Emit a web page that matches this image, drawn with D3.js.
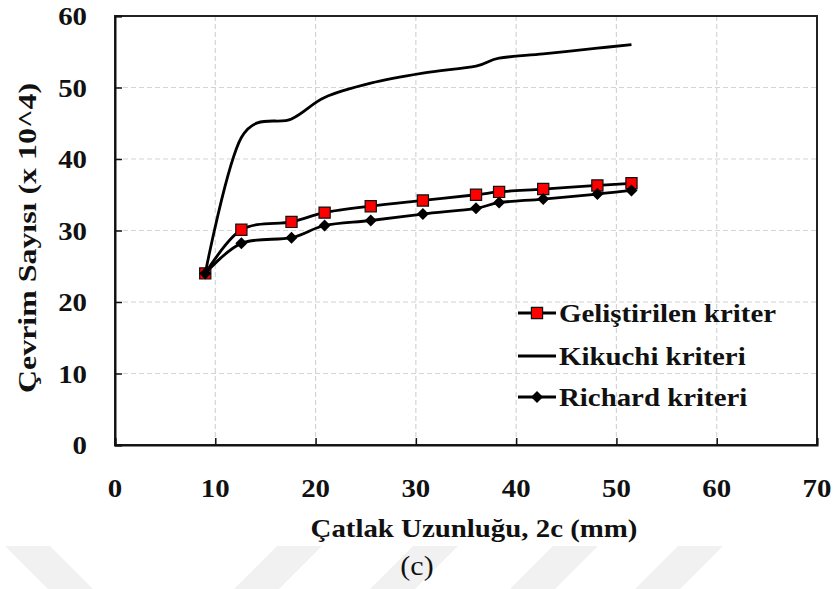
<!DOCTYPE html>
<html><head><meta charset="utf-8">
<script src="https://cdn.jsdelivr.net/npm/d3@7"></script>
<style>body{margin:0;background:#fff}svg{display:block}</style>
</head><body><svg id="c" width="834" height="589"></svg>
<script>
// ---- data ----
const crackLength = [9.0, 12.6, 17.6, 20.9, 25.5, 30.7, 36.0, 38.3, 42.7, 48.1, 51.5];
const gelistirilen = [24.0, 30.1, 31.2, 32.5, 33.4, 34.2, 35.0, 35.4, 35.8, 36.3, 36.6];
const kikuchi      = [24.0, 43.0, 45.6, 48.6, 50.6, 52.0, 53.0, 54.1, 54.7, 55.5, 56.0];
const richard      = [24.0, 28.2, 29.0, 30.7, 31.4, 32.3, 33.1, 33.9, 34.4, 35.1, 35.6];
const seriesNames  = ["Geliştirilen kriter", "Kikuchi kriteri", "Richard kriteri"];
const xTickValues  = [0, 10, 20, 30, 40, 50, 60, 70];
const yTickValues  = [0, 10, 20, 30, 40, 50, 60];
const xTitle = "Çatlak Uzunluğu, 2c (mm)";
const yTitle = "Çevrim Sayısı (x 10^4)";
const caption = "(c)";

// ---- layout ----
const svg = d3.select("#c");
const L = 115, T = 16, R = 817, B = 445;
const x = d3.scaleLinear().domain([0, 70]).range([L, R]);
const y = d3.scaleLinear().domain([0, 60]).range([B, T]);
const SX = 1.11, FS = 26;
const serif = "'Liberation Serif','Times New Roman',serif";

// watermark stripes at bottom
const wm = svg.append("g").attr("fill", "#f1f1f1");
const stripeTopX = [277, 413, 553, 678];
stripeTopX.forEach(t => {
  wm.append("path").attr("d", `M${t},546 L${t+45},546 L${t+2},589 L${t-43},589 Z`);
});
wm.append("path").attr("d", "M5,546 L50,546 L93,589 L48,589 Z");

// grid
const grid = svg.append("g").attr("stroke", "#d4d4d4").attr("stroke-width", 1.2)
  .attr("stroke-dasharray", "5,3");
grid.selectAll(".gx").data(xTickValues.filter(v => v > 0 && v < 70)).join("line")
  .attr("x1", d => x(d)).attr("x2", d => x(d)).attr("y1", T).attr("y2", B);
grid.selectAll(".gy").data(yTickValues.filter(v => v > 0 && v < 60)).join("line")
  .attr("x1", L).attr("x2", R).attr("y1", d => y(d)).attr("y2", d => y(d));

// frame
svg.append("rect").attr("x", L).attr("y", T).attr("width", R - L).attr("height", B - T)
  .attr("fill", "none").attr("stroke", "#222").attr("stroke-width", 2);

// axes ticks (inside)
const xAxis = svg.append("g").attr("transform", `translate(0,${B})`)
  .call(d3.axisBottom(x).tickValues(xTickValues).tickSize(-7).tickFormat(""));
const yAxis = svg.append("g").attr("transform", `translate(${L},0)`)
  .call(d3.axisLeft(y).tickValues(yTickValues).tickSize(-7).tickFormat(""));
[xAxis, yAxis].forEach(a => {
  a.select(".domain").attr("stroke", "#111").attr("stroke-width", 2);
  a.selectAll(".tick line").attr("stroke", "#111").attr("stroke-width", 1.5);
});

function stext(g, str, tx, ty, opts) {
  return g.append("text").text(str)
    .attr("transform", `translate(${tx},${ty}) scale(${SX},1)`)
    .attr("font-family", serif).attr("font-size", opts.size || FS)
    .attr("font-weight", opts.weight || "bold")
    .attr("text-anchor", opts.anchor || "middle").attr("fill", "#111");
}

// tick labels
const labels = svg.append("g");
xTickValues.forEach(v => stext(labels, String(v), x(v), 497, {}));
yTickValues.forEach(v => stext(labels, String(v), 87, y(v) + 9, {anchor: "end"}));

// titles
stext(labels, xTitle, 474, 537, {});
stext(labels, caption, 417, 575, {weight: "normal", size: 27});
labels.append("text").text(yTitle)
  .attr("transform", "translate(36,238) rotate(-90)")
  .attr("font-family", serif).attr("font-size", FS).attr("font-weight", "bold")
  .attr("text-anchor", "middle").attr("fill", "#111")
  .attr("textLength", 310).attr("lengthAdjust", "spacingAndGlyphs");

// series
const line = d3.line().x(d => x(d[0])).y(d => y(d[1])).curve(d3.curveCatmullRom.alpha(0));
const pts = vals => crackLength.map((c, i) => [c, vals[i]]);
const plot = svg.append("g");
const sq = d3.symbol().type(d3.symbolSquare).size(125);
const dm = d3.symbol().type(d3.symbolSquare).size(72);

plot.append("path").attr("d", line(pts(gelistirilen))).attr("fill", "none")
  .attr("stroke", "#000").attr("stroke-width", 2.8);
plot.selectAll(".sq").data(pts(gelistirilen)).join("path")
  .attr("d", sq).attr("transform", d => `translate(${x(d[0])},${y(d[1])})`)
  .attr("fill", "#ff0000").attr("stroke", "#111").attr("stroke-width", 1.2);

plot.append("path").attr("d", line(pts(kikuchi))).attr("fill", "none")
  .attr("stroke", "#000").attr("stroke-width", 2.8);

plot.append("path").attr("d", line(pts(richard))).attr("fill", "none")
  .attr("stroke", "#000").attr("stroke-width", 2.8);
plot.selectAll(".dm").data(pts(richard)).join("path")
  .attr("d", dm).attr("transform", d => `translate(${x(d[0])},${y(d[1])}) rotate(45)`)
  .attr("fill", "#000");

// legend
const lg = svg.append("g");
const rowsY = [313, 356, 397];
seriesNames.forEach((name, i) => {
  const yy = rowsY[i];
  lg.append("line").attr("x1", 518).attr("x2", 556).attr("y1", yy).attr("y2", yy)
    .attr("stroke", "#000").attr("stroke-width", 2.8);
  if (i === 0) lg.append("path").attr("d", sq).attr("transform", `translate(537,${yy})`)
    .attr("fill", "#ff0000").attr("stroke", "#111").attr("stroke-width", 1.2);
  if (i === 2) lg.append("path").attr("d", dm).attr("transform", `translate(537,${yy}) rotate(45)`)
    .attr("fill", "#000");
  stext(lg, name, 559, yy + 9, {anchor: "start"});
});
</script></body></html>
